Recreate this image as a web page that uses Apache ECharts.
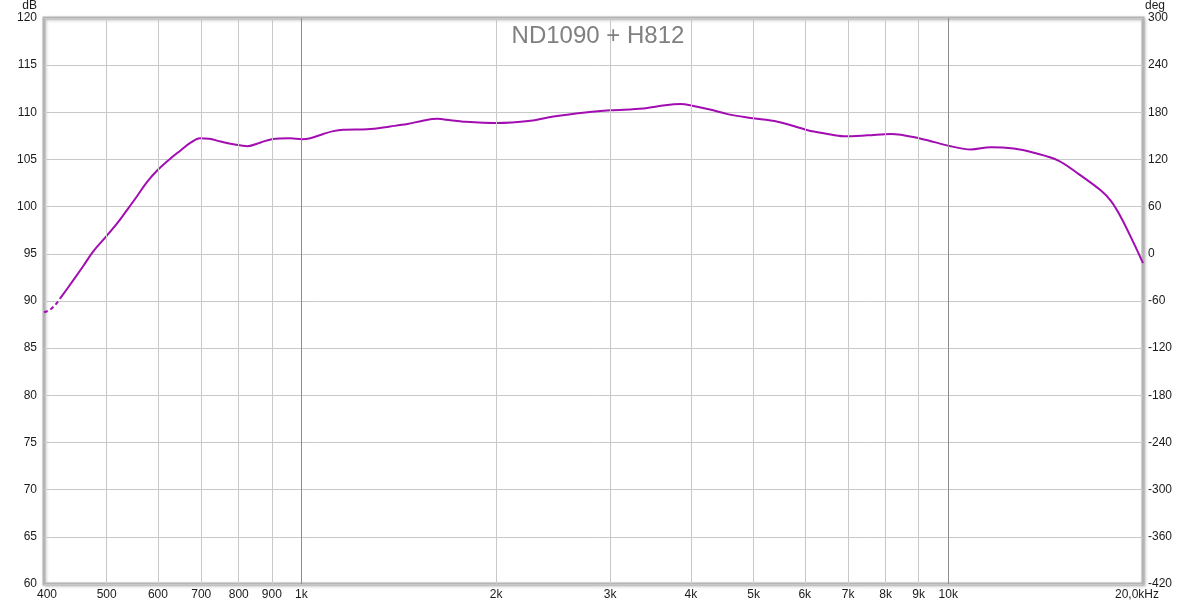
<!DOCTYPE html>
<html>
<head>
<meta charset="utf-8">
<script src="https://cdn.jsdelivr.net/npm/echarts@6/dist/echarts.min.js"></script>
<style>
html,body{margin:0;padding:0;background:#fff;}
#chart{width:1200px;height:606px;}
</style>
</head>
<body>
<div id="chart"></div>
<script>
// ---- data ----
var chartTitle = 'ND1090 + H812';
// dashed low-frequency start of the curve
var dashFreq = [400, 411, 424];
var dashDb   = [88.8, 89.2, 90.3];
// solid curve
var freq = [424, 444, 460, 476, 500, 520, 537, 557, 577, 600, 625, 649, 675, 697, 720, 750, 785, 825, 865, 900, 961, 1002, 1032, 1081, 1120, 1160, 1264, 1372, 1458, 1540, 1622, 1700, 1780, 2000, 2260, 2453, 2770, 3004, 3380, 3650, 3857, 4020, 4280, 4560, 4948, 5448, 6064, 6450, 6893, 7500, 8148, 9070, 10090, 10835, 11635, 12626, 13560, 14770, 15870, 17220, 17840, 18480, 19360, 20000];
var db   = [90.3, 92.2, 93.7, 95.2, 96.9, 98.3, 99.6, 101.1, 102.6, 103.9, 105.0, 105.9, 106.8, 107.25, 107.2, 106.9, 106.6, 106.4, 106.8, 107.15, 107.25, 107.15, 107.25, 107.7, 108.0, 108.15, 108.2, 108.5, 108.75, 109.1, 109.3, 109.15, 109.0, 108.86, 109.1, 109.55, 110.0, 110.2, 110.4, 110.75, 110.87, 110.7, 110.3, 109.8, 109.4, 109.0, 108.1, 107.75, 107.45, 107.55, 107.7, 107.2, 106.4, 106.05, 106.3, 106.15, 105.7, 104.9, 103.5, 101.7, 100.6, 98.9, 96.1, 94.0];
// x gridlines and tick labels
var minorGridFreq = [500, 600, 700, 800, 900, 2000, 3000, 4000, 5000, 6000, 7000, 8000, 9000];
var majorGridFreq = [1000, 10000];
var xTickFreq  = [400, 500, 600, 700, 800, 900, 1000, 2000, 3000, 4000, 5000, 6000, 7000, 8000, 9000, 10000, 20000];
var xTickLabel = ['400', '500', '600', '700', '800', '900', '1k', '2k', '3k', '4k', '5k', '6k', '7k', '8k', '9k', '10k', '20,0kHz'];
var dbMin = 60, dbMax = 120, dbStep = 5;
var degMin = -420, degMax = 300, degStep = 60;

var FONT = 'Liberation Sans';
var curveColor = '#a20db2';

function pairs(xs, ys) { return xs.map(function (x, i) { return [x, ys[i]]; }); }

var gridLines = []
  .concat(minorGridFreq.map(function (f) { return { xAxis: f, lineStyle: { color: '#c8c8c8', width: 1, type: 'solid' }, label: { show: false } }; }))
  .concat(majorGridFreq.map(function (f) { return { xAxis: f, lineStyle: { color: '#8c8c8c', width: 1, type: 'solid' }, label: { show: false } }; }));

var labelLines = xTickFreq.map(function (f, i) {
  var lab = xTickLabel[i];
  var pad = [0, 0, 0, 0];
  if (i === 0) pad = [0, 0, 0, 6];
  if (i === xTickFreq.length - 1) pad = [0, 12, 0, 0];
  return {
    xAxis: f, name: lab,
    lineStyle: { color: 'rgba(255,255,255,0)', width: 1 },
    label: { show: true, position: 'start', formatter: lab, distance: 5, color: '#1a1a1a', fontSize: 12, fontFamily: FONT, padding: pad }
  };
});

var chart = echarts.init(document.getElementById('chart'), null, { renderer: 'canvas' });
chart.setOption({
  animation: false,
  backgroundColor: '#ffffff',
  title: {
    text: chartTitle,
    left: 593, top: 19, textAlign: 'center',
    textStyle: { color: '#808080', fontSize: 24, fontWeight: 'normal', fontFamily: FONT }
  },
  grid: {
    left: 44, right: 57, top: 17, bottom: 22,
    show: true, backgroundColor: '#ffffff',
    borderColor: '#b4b4b4', borderWidth: 3,
    shadowColor: 'rgba(0,0,0,0.22)', shadowBlur: 3, shadowOffsetX: 1, shadowOffsetY: 1
  },
  xAxis: {
    type: 'log', logBase: 10, min: 400, max: 20000,
    axisLine: { show: false }, axisTick: { show: false },
    axisLabel: { show: false }, splitLine: { show: false }, minorSplitLine: { show: false }
  },
  yAxis: [
    {
      type: 'value', position: 'left', min: dbMin, max: dbMax, interval: dbStep,
      name: 'dB', nameLocation: 'end', nameGap: 1,
      nameTextStyle: { color: '#1a1a1a', fontSize: 12, fontFamily: FONT, align: 'right', padding: [0, 7, 0, 0] },
      axisLine: { show: false }, axisTick: { show: false },
      axisLabel: { color: '#1a1a1a', fontSize: 12, fontFamily: FONT, margin: 7 },
      splitLine: { show: true, lineStyle: { color: '#c8c8c8', width: 1 } }
    },
    {
      type: 'value', position: 'right', min: degMin, max: degMax, interval: degStep,
      name: 'deg', nameLocation: 'end', nameGap: 1,
      nameTextStyle: { color: '#1a1a1a', fontSize: 12, fontFamily: FONT, align: 'left', padding: [0, 0, 0, 2] },
      axisLine: { show: false }, axisTick: { show: false },
      axisLabel: { color: '#1a1a1a', fontSize: 12, fontFamily: FONT, margin: 5 },
      splitLine: { show: false }
    }
  ],
  series: [
    {
      type: 'line', data: [], z: 1, silent: true, yAxisIndex: 0,
      markLine: { silent: true, symbol: ['none', 'none'], animation: false, data: gridLines.concat(labelLines) }
    },
    {
      type: 'line', name: 'dash', yAxisIndex: 0, z: 3,
      data: pairs(dashFreq, dashDb), smooth: true, showSymbol: false, symbol: 'none',
      lineStyle: { color: curveColor, width: 2, type: [4, 3] }
    },
    {
      type: 'line', name: 'spl', yAxisIndex: 0, z: 3,
      data: pairs(freq, db), smooth: 0.35, showSymbol: false, symbol: 'none',
      lineStyle: { color: curveColor, width: 2 }
    }
  ]
});
</script>
</body>
</html>
